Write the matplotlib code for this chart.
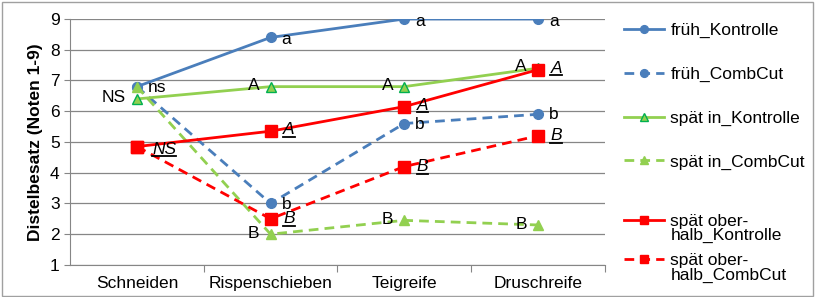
import matplotlib.pyplot as plt
from matplotlib.lines import Line2D
from matplotlib.patches import Rectangle

plt.rcParams['font.family'] = ['Liberation Sans', 'DejaVu Sans']

# Daten
stadien = ['Schneiden', 'Rispenschieben', 'Teigreife', 'Druschreife']
frueh_kontrolle = [6.8, 8.4, 9.0, 9.0]
frueh_combcut = [6.8, 3.0, 5.6, 5.9]
spaet_in_kontrolle = [6.4, 6.8, 6.8, 7.4]
spaet_in_combcut = [6.8, 2.0, 2.45, 2.3]
spaet_ober_kontrolle = [4.85, 5.35, 6.15, 7.35]
spaet_ober_combcut = [4.85, 2.5, 4.2, 5.2]

# Buchstaben (Signifikanz)
buchst_frueh_k = ['', 'a', 'a', 'a']
buchst_frueh_c = ['ns', 'b', 'b', 'b']
buchst_in_k = ['NS', 'A', 'A', 'A']
buchst_in_c = ['', 'B', 'B', 'B']
buchst_ober_k = ['NS', 'A', 'A', 'A']
buchst_ober_c = ['', 'B', 'B', 'B']

blau = '#4A7EBB'
gruen = '#92D050'
rot = '#FF0000'
fs = 12.5

fig = plt.figure(figsize=(8.15, 2.97), dpi=100)
ax = fig.add_axes([0.086, 0.108, 0.656, 0.828])
x = range(len(stadien))

serien = [
    (frueh_kontrolle, 'früh_Kontrolle', blau, '-', 'o', blau, 7),
    (frueh_combcut, 'früh_CombCut', blau, '--', 'o', blau, 7),
    (spaet_in_kontrolle, 'spät in_Kontrolle', gruen, '-', '^', '#00B050', 7.5),
    (spaet_in_combcut, 'spät in_CombCut', gruen, '--', '^', gruen, 7.5),
    (spaet_ober_kontrolle, 'spät ober-\nhalb_Kontrolle', rot, '-', 's', rot, 8),
    (spaet_ober_combcut, 'spät ober-\nhalb_CombCut', rot, '--', 's', rot, 8),
]
linien = []
for werte, name, farbe, ls, m, kante, ms in serien:
    line, = ax.plot(x, werte, color=farbe, linestyle=ls, linewidth=2, marker=m,
                    markersize=ms, markerfacecolor=farbe, markeredgecolor=kante,
                    label=name)
    if ls == '--':
        line.set_dashes((3.5, 2.2))
    linien.append(line)

ax.set_xlim(-0.5, 3.5)
ax.set_ylim(1, 9)
ax.set_yticks(range(1, 10))
ax.set_xticks([0.5, 1.5, 2.5, 3.5])
ax.set_xticklabels([])
ax.set_xticks(list(x), minor=True)
ax.set_xticklabels(stadien, minor=True, fontsize=fs)
ax.tick_params(axis='x', which='major', length=5, color='#868686')
ax.tick_params(axis='x', which='minor', length=0, pad=8)
ax.tick_params(axis='y', length=4, color='#868686', labelsize=fs)
ax.grid(axis='y', color='#868686', linewidth=0.9)
ax.set_axisbelow(True)
for s in ['top', 'right']:
    ax.spines[s].set_visible(False)
for s in ['left', 'bottom']:
    ax.spines[s].set_color('#868686')
ax.set_ylabel('Distelbesatz (Noten 1-9)', fontsize=fs, fontweight='bold', labelpad=5)

unterstreichen = []


def beschriften(werte, texte, dx, dy, ha, kursiv=False):
    for i, t in enumerate(texte):
        if not t:
            continue
        txt = ax.annotate(t, (i, werte[i]), xytext=(dx, dy), textcoords='offset points',
                          ha=ha, va='center', fontsize=fs,
                          style='italic' if kursiv else 'normal')
        if kursiv:
            unterstreichen.append(txt)


beschriften(frueh_kontrolle, buchst_frueh_k, 8, -1.5, 'left')
beschriften(frueh_combcut, buchst_frueh_c, 8, -0.5, 'left')
beschriften(spaet_in_kontrolle, buchst_in_k, -8, 1, 'right')
beschriften(spaet_in_combcut, buchst_in_c, -8, 0.5, 'right')
beschriften(spaet_ober_kontrolle, buchst_ober_k, 9, 1, 'left', kursiv=True)
beschriften(spaet_ober_combcut, buchst_ober_c, 9, 0, 'left', kursiv=True)
# NS bei Schneiden etwas tiefer
unterstreichen[0].xyann = (11, -2)

# Legende in zwei Teilen (einzeilige / zweizeilige Einträge)
leg_opts = dict(loc='upper left', frameon=False, fontsize=fs, handlelength=2.3,
                handletextpad=0.35, markerscale=0.8)
leg1 = fig.legend(handles=linien[:4], bbox_to_anchor=(0.747, 0.975),
                  labelspacing=1.64, **leg_opts)
leg2 = fig.legend(handles=linien[4:], bbox_to_anchor=(0.747, 0.333),
                  labelspacing=0.6, **leg_opts)
for t in leg2.get_texts():
    t.set_linespacing(0.92)
# Symbol auf Höhe der ersten Textzeile
for spalte in leg2._legend_handle_box.get_children():
    for zeile in spalte.get_children():
        zeile.align = 'top'

fig.canvas.draw()
r = fig.canvas.get_renderer()
for t in unterstreichen:
    bb = t.get_window_extent(r)
    yy = bb.y0 + 0.5
    fig.add_artist(Line2D([bb.x0 / fig.bbox.width, bb.x1 / fig.bbox.width],
                          [yy / fig.bbox.height, yy / fig.bbox.height],
                          transform=fig.transFigure, color='black', linewidth=1.3))

fig.add_artist(Rectangle((0.002, 0.004), 0.995, 0.99, transform=fig.transFigure,
                         fill=False, edgecolor='#a0a0a0', linewidth=1))

fig.savefig('out.png', dpi=100)
